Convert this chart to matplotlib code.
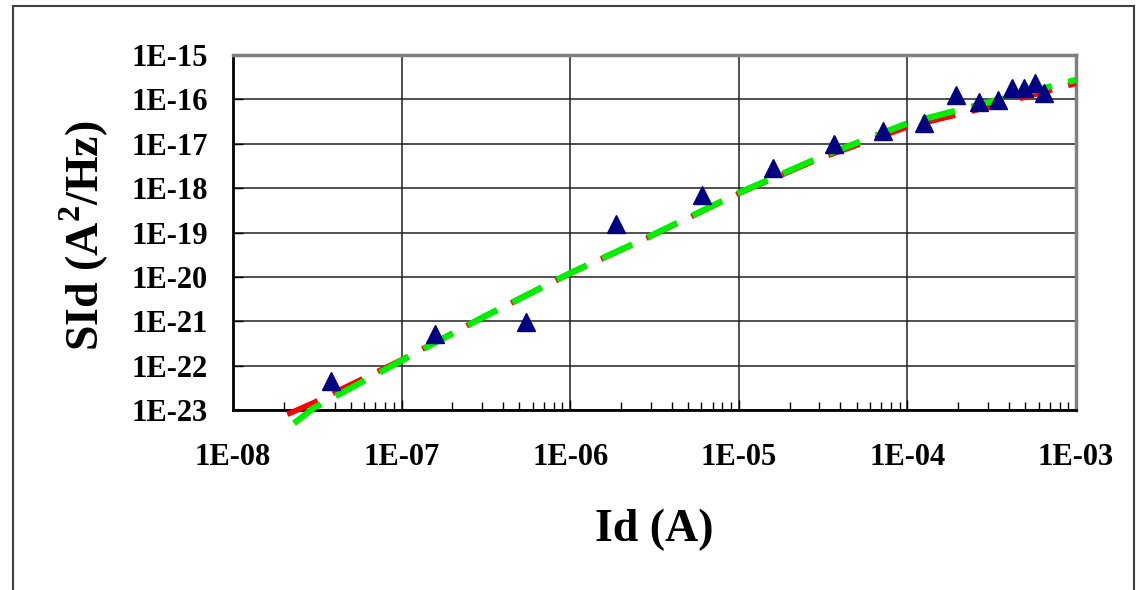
import numpy as np
import matplotlib
import matplotlib.pyplot as plt
from matplotlib.ticker import LogLocator, FuncFormatter, NullFormatter
from matplotlib.patches import Rectangle

matplotlib.use('Agg')

# measured points (Id, SId)
id_meas = [3.8e-8, 1.58e-7, 5.5e-7, 1.87e-6, 6.05e-6, 1.6e-5, 3.67e-5, 7.2e-5,
           1.26e-4, 1.94e-4, 2.66e-4, 3.45e-4, 4.17e-4, 4.9e-4, 5.7e-4, 6.5e-4]
sid_meas = [4.6e-23, 5.2e-22, 9.8e-22, 1.55e-19, 7.0e-19, 2.85e-18, 1.0e-17, 1.95e-17,
            2.9e-17, 1.26e-16, 8.7e-17, 9.7e-17, 1.8e-16, 1.8e-16, 2.3e-16, 1.4e-16]

# model curves
id_red = [2.1e-8, 3e-8, 1e-7, 3e-7, 1e-6, 3e-6, 1e-5, 3e-5, 1e-4, 3e-4, 1e-3]
sid_red = [8e-24, 1.45e-23, 1.35e-22, 1.2e-21, 1.2e-20, 8.2e-20, 7.6e-19, 4.6e-18,
           2.4e-17, 6.7e-17, 2.3e-16]
id_green = [2.3e-8, 3e-8, 1e-7, 3e-7, 1e-6, 3e-6, 1e-5, 3e-5, 1e-4, 3e-4, 1e-3]
sid_green = [5e-24, 1.1e-23, 1.3e-22, 1.2e-21, 1.22e-20, 8.4e-20, 7.8e-19, 4.9e-18,
             2.9e-17, 8.5e-17, 2.75e-16]

xticks = [1e-8, 1e-7, 1e-6, 1e-5, 1e-4, 1e-3]
yticks = [1e-23, 1e-22, 1e-21, 1e-20, 1e-19, 1e-18, 1e-17, 1e-16, 1e-15]

plt.rcParams['font.family'] = ['Liberation Serif', 'DejaVu Serif']
plt.rcParams['font.weight'] = 'bold'
plt.rcParams['mathtext.fontset'] = 'custom'
plt.rcParams['mathtext.rm'] = 'Liberation Serif:bold'
plt.rcParams['mathtext.bf'] = 'Liberation Serif:bold'

fig = plt.figure(figsize=(11.44, 5.90), dpi=100)
fig.patches.append(Rectangle((13 / 1144, -0.1), (1134 - 13) / 1144, 1.1 - 6 / 590,
                             transform=fig.transFigure, fill=False,
                             edgecolor='#404040', linewidth=1.5))
ax = fig.add_axes([233 / 1144, 1 - 410 / 590, (1076 - 233) / 1144, (410 - 55) / 590])

ax.set_xscale('log')
ax.set_yscale('log')
ax.set_xlim(1e-8, 1e-3)
ax.set_ylim(1e-23, 1e-15)

ax.grid(True, which='major', color='#202020', linewidth=1.1)
ax.set_axisbelow(True)

ax.plot(id_red, sid_red, color='#ff0000', linewidth=4, dashes=(6, 3),
        clip_on=False, zorder=3)
ax.plot(id_green, sid_green, color='#00ee00', linewidth=4.5, dashes=(5.3, 2.7),
        clip_on=False, zorder=4)
ax.plot(id_meas, sid_meas, linestyle='none', marker='^', markersize=13,
        color='#000080', zorder=5, clip_on=False)

ax.set_xticks(xticks)
ax.set_yticks(yticks)
fmt = FuncFormatter(lambda v, p: '1E-%02d' % round(-np.log10(v)))
ax.xaxis.set_major_formatter(fmt)
ax.yaxis.set_major_formatter(fmt)
ax.xaxis.set_minor_locator(LogLocator(base=10, subs=np.arange(2, 10)))
ax.yaxis.set_minor_locator(LogLocator(base=10, subs=np.arange(2, 10)))
ax.xaxis.set_minor_formatter(NullFormatter())
ax.yaxis.set_minor_formatter(NullFormatter())

ax.tick_params(axis='both', which='both', direction='in', labelsize=22, width=1)
ax.tick_params(axis='both', which='major', length=7)
ax.tick_params(axis='both', which='minor', length=6)
ax.tick_params(axis='x', which='major', pad=24)
ax.tick_params(axis='y', which='major', pad=18)
for lab in ax.get_xticklabels() + ax.get_yticklabels():
    lab.set_fontweight('bold')

for s in ['left', 'bottom']:
    ax.spines[s].set_color('black')
    ax.spines[s].set_linewidth(2)
for s in ['top', 'right']:
    ax.spines[s].set_color('#808080')
    ax.spines[s].set_linewidth(2.5)

ax.set_xlabel('Id (A)', fontsize=33, fontweight='bold', va='center')
ax.xaxis.set_label_coords(0.5, -0.338)
ax.set_ylabel('SId (A$^{\\mathbf{2}}$/Hz)', fontsize=33, fontweight='bold', va='center')
ax.yaxis.set_label_coords(-0.176, 0.49)

fig.savefig('out.png', dpi=100)
